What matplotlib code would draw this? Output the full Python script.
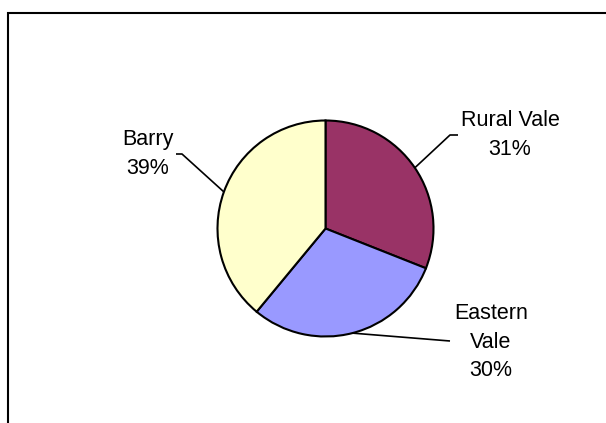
import numpy as np
import matplotlib
matplotlib.use("Agg")
import matplotlib.pyplot as plt
from matplotlib.patches import Rectangle

# Data
labels = ["Rural Vale", "Eastern Vale", "Barry"]
shares = [31, 30, 39]
colors = ["#993366", "#9999FF", "#FFFFCC"]

# label text lines as shown in the chart
label_text = ["Rural Vale\n31%", "Eastern\nVale\n30%", "Barry\n39%"]

W, H = 606, 423
CX, CY, R = 325.5, 228.5, 108.0  # pie centre / radius in pixels


def px(x, y):
    """pixel (from top-left) -> pie data coords (radius 1)"""
    return (x - CX) / R, (CY - y) / R


plt.rcParams["font.family"] = ["Liberation Sans", "DejaVu Sans"]

fig = plt.figure(figsize=(W / 100, H / 100), dpi=100)
fig.patch.set_facecolor("white")

# outer chart frame (runs off right and bottom edges)
fig.add_artist(Rectangle((7.5 / W, -0.05), 1.2, (H - 13.5) / H + 0.05,
                         transform=fig.transFigure, fill=False,
                         edgecolor="black", linewidth=1.5))

ax = fig.add_axes([(CX - R) / W, (H - CY - R) / H, 2 * R / W, 2 * R / H])
wedges, _ = ax.pie(shares, colors=colors, startangle=90, counterclock=False,
                   radius=1.0,
                   wedgeprops=dict(edgecolor="black", linewidth=1.5))
ax.set_xlim(-1, 1)
ax.set_ylim(-1, 1)
ax.set_aspect("equal")
ax.axis("off")
for w in wedges:
    w.set_clip_on(False)

# label positions (text centre) and leader elbow points, in pixels
text_pos = [(510, 135), (491, 342), (148, 154)]
elbows = [[(450, 135), (458, 135)],
          [(450, 341)],
          [(182, 154), (176, 154)]]

for w, txt, tp, elb in zip(wedges, label_text, text_pos, elbows):
    mid = np.deg2rad((w.theta1 + w.theta2) / 2)
    pts = [(np.cos(mid), np.sin(mid))] + [px(*p) for p in elb]
    xs, ys = zip(*pts)
    ax.plot(xs, ys, color="black", linewidth=1.2, clip_on=False,
            solid_capstyle="butt")
    tx, ty = px(*tp)
    ax.text(tx, ty, txt, ha="center", va="center", multialignment="center",
            fontsize=15.5, color="black", linespacing=1.45)

fig.savefig("out.png", dpi=100)
